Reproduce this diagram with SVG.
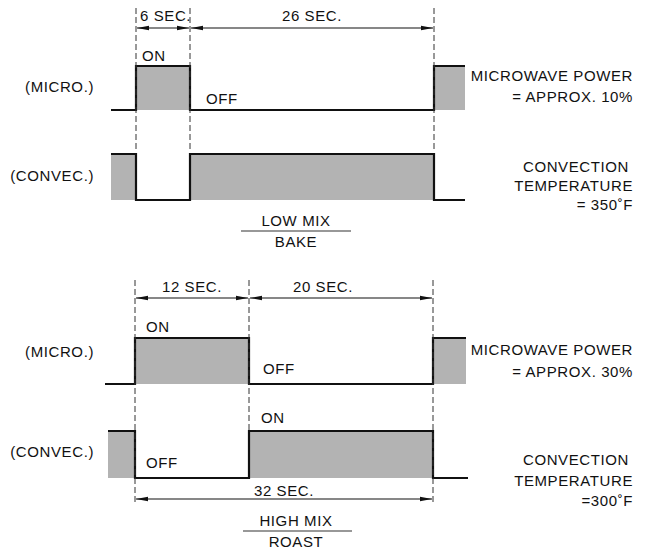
<svg xmlns="http://www.w3.org/2000/svg" width="649" height="550" viewBox="0 0 649 550">
<defs>
<marker id="ah" viewBox="0 0 12 6" refX="12" refY="3" markerWidth="12" markerHeight="6" markerUnits="userSpaceOnUse" orient="auto-start-reverse">
<path d="M0,0.8 L12,3 L0,5.2 Z" fill="#111"/>
</marker>
<style>
text{font-family:"Liberation Sans",Arial,sans-serif;font-size:15px;fill:#111;letter-spacing:0.6px}
.r{text-anchor:end}
.m{text-anchor:middle}
.dash{stroke:#333;stroke-width:1;stroke-dasharray:6,3;fill:none}
.wave{stroke:#111;stroke-width:2.2;fill:none;stroke-linejoin:miter}
.fill{fill:#b3b3b3;stroke:none}
.dim{stroke:#111;stroke-width:1.2;fill:none}
.rule{stroke:#333;stroke-width:1.2}
</style>
</defs>
<rect width="649" height="550" fill="#fff"/>

<g id="top-micro">
<rect class="fill" x="136" y="66" width="54" height="44"/>
<rect class="fill" x="434" y="66" width="31" height="44"/>
<path class="wave" d="M111,110 H136 V66 H190 V110 H434 V66 H465"/>
<text x="94" y="92" class="r">(MICRO.)</text>
<text x="142" y="61">ON</text>
<text x="206" y="104">OFF</text>
<text x="633" y="81" class="r">MICROWAVE POWER</text>
<text x="633" y="102" class="r">= APPROX. 10%</text>
</g>

<g id="top-convec">
<rect class="fill" x="111" y="154" width="25" height="46"/>
<rect class="fill" x="190" y="154" width="244" height="46"/>
<path class="wave" d="M111,154 H136 V200 H190 V154 H434 V200 H465"/>
<text x="94" y="181" class="r">(CONVEC.)</text>
<text x="629" y="172" class="r">CONVECTION</text>
<text x="633" y="191" class="r">TEMPERATURE</text>
<text x="633" y="210" class="r">= 350˚F</text>
<text x="296" y="226" class="m">LOW MIX</text>
<line class="rule" x1="241" y1="231" x2="351" y2="231"/>
<text x="296" y="247" class="m">BAKE</text>
</g>

<g id="bottom-micro">
<rect class="fill" x="135" y="338" width="114" height="46"/>
<rect class="fill" x="433" y="338" width="33" height="46"/>
<path class="wave" d="M105,384 H135 V338 H249 V384 H433 V338 H466"/>
<text x="94" y="357" class="r">(MICRO.)</text>
<text x="146" y="332">ON</text>
<text x="263" y="374">OFF</text>
<text x="633" y="355" class="r">MICROWAVE POWER</text>
<text x="633" y="377" class="r">= APPROX. 30%</text>
</g>

<g id="bottom-convec">
<rect class="fill" x="108" y="431" width="27" height="47"/>
<rect class="fill" x="249" y="431" width="184" height="47"/>
<path class="wave" d="M108,431 H135 V478 H249 V431 H433 V478 H468"/>
<text x="94" y="457" class="r">(CONVEC.)</text>
<text x="261" y="423">ON</text>
<text x="146" y="468">OFF</text>
<text x="629" y="465" class="r">CONVECTION</text>
<text x="633" y="486" class="r">TEMPERATURE</text>
<text x="633" y="506" class="r">=300˚F</text>
<text x="296" y="526" class="m">HIGH MIX</text>
<line class="rule" x1="243" y1="531" x2="352" y2="531"/>
<text x="296" y="547" class="m">ROAST</text>
</g>

<g id="connectors">
<line class="dash" x1="136" y1="8" x2="136" y2="152"/>
<line class="dash" x1="190" y1="8" x2="190" y2="152"/>
<line class="dash" x1="434" y1="8" x2="434" y2="152"/>
<line class="dim" x1="137" y1="28" x2="189" y2="28" marker-start="url(#ah)" marker-end="url(#ah)"/>
<line class="dim" x1="191" y1="28" x2="433" y2="28" marker-start="url(#ah)" marker-end="url(#ah)"/>
<text x="140" y="21">6 SEC.</text>
<text x="312" y="21" class="m">26 SEC.</text>

<line class="dash" x1="135" y1="280" x2="135" y2="503"/>
<line class="dash" x1="249" y1="280" x2="249" y2="430"/>
<line class="dash" x1="433" y1="280" x2="433" y2="503"/>
<line class="dim" x1="136" y1="298" x2="248" y2="298" marker-start="url(#ah)" marker-end="url(#ah)"/>
<line class="dim" x1="250" y1="298" x2="432" y2="298" marker-start="url(#ah)" marker-end="url(#ah)"/>
<text x="192" y="292" class="m">12 SEC.</text>
<text x="323" y="292" class="m">20 SEC.</text>
<line class="dim" x1="136" y1="499" x2="432" y2="499" marker-start="url(#ah)" marker-end="url(#ah)"/>
<text x="284" y="496" class="m">32 SEC.</text>
</g>
</svg>
